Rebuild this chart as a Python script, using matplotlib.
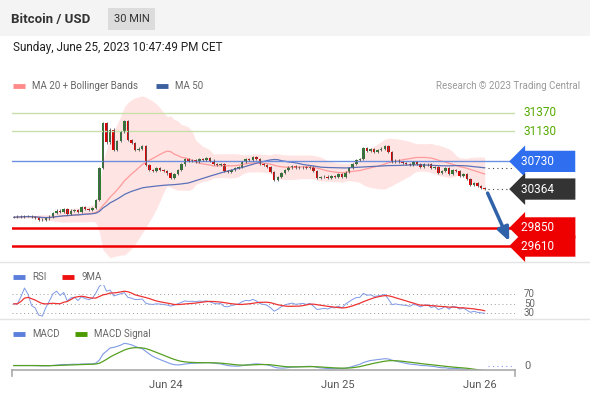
import matplotlib
matplotlib.use("Agg")
import matplotlib.pyplot as plt
import numpy as np
import pandas as pd

plt.rcParams["font.family"] = ["Roboto", "DejaVu Sans"]

# 30-min closes, Jun 23 -> Jun 26
closes = [
    29990, 30000, 29995, 30010, 30005, 29990, 29985, 29960, 29955, 29975,
    30000, 30050, 30080, 30060, 30100, 30040, 30080, 30090, 30060, 30120,
    30100, 30090, 30110, 30220,
    30640, 31240, 30980, 31150, 30880, 31000, 31120, 31265, 31010, 30970,
    30880, 30900, 30930,
    30680, 30620, 30600, 30640, 30620, 30600, 30570, 30510, 30560, 30620,
    30690, 30760, 30740, 30750, 30730, 30760, 30750, 30770, 30740, 30700,
    30680, 30690, 30600, 30590, 30620, 30640, 30660, 30720, 30760, 30750,
    30790, 30760, 30700, 30680, 30660, 30590, 30480,
    30520, 30580, 30620, 30650, 30670, 30640, 30650, 30660, 30640, 30660,
    30600, 30510, 30520, 30530, 30515, 30540, 30530, 30560, 30520, 30590,
    30640, 30700, 30750, 30760, 30905,
    30870, 30890, 30860, 30880, 30900, 30930, 30850, 30720, 30740, 30720,
    30710, 30700, 30680, 30720, 30700, 30660, 30690, 30700, 30640, 30660,
    30580, 30600, 30640, 30560, 30620, 30600, 30540, 30560, 30500, 30420,
    30440, 30400, 30380, 30364,
]
levels_green = [31370, 31130]
level_blue = 30730
levels_red = [29850, 29610]
last_price = 30364
tick_pos = [42.7, 90.8, 130.7]
tick_labels = ["Jun 24", "Jun 25", "Jun 26"]

c = pd.Series(closes, dtype=float)
o = c.shift(1).fillna(c.iloc[0])
hi = np.maximum(o, c) + 15
lo = np.minimum(o, c) - 15
n = len(c)
x = np.arange(n)

ma20 = c.rolling(20, min_periods=1).mean()
sd20 = c.rolling(20, min_periods=1).std().fillna(0)
ma50 = c.rolling(50, min_periods=1).mean()
d = c.diff().fillna(0)
rs = d.clip(lower=0).ewm(alpha=1 / 14).mean() / (-d.clip(upper=0)).ewm(alpha=1 / 14).mean().replace(0, np.nan)
rsi = (100 - 100 / (1 + rs)).fillna(50)
rsi_ma = rsi.rolling(9, min_periods=1).mean()
macd = c.ewm(span=12).mean() - c.ewm(span=26).mean()
sig = macd.ewm(span=9).mean()

W, H = 590, 400
fig = plt.figure(figsize=(5.9, 4.0), dpi=100)
fig.patch.set_facecolor("white")
gray = "#666666"
XL = (-0.5, 140.5)


def fax(left, top, right, bottom):
    return fig.add_axes([left / W, 1 - bottom / H, (right - left) / W, (bottom - top) / H])


def fy(py):
    return 1 - py / H


# header
fig.add_artist(plt.Rectangle((0, fy(36)), 1, 36 / H, transform=fig.transFigure,
                             facecolor="#f4f4f4", edgecolor="none"))
fig.text(11 / W, fy(19), "Bitcoin / USD", fontsize=9.5, fontweight="bold", color="#333", va="center")
fig.text(114 / W, fy(19), "30 MIN", fontsize=8, color="#333", va="center",
         bbox=dict(boxstyle="square,pad=0.5", facecolor="#dcdcdc", edgecolor="none"))
fig.text(13 / W, fy(47), "Sunday, June 25, 2023 10:47:49 PM CET", fontsize=8.5, color="#222", va="center")
for yy in (262, 319):
    fig.add_artist(plt.Line2D([0, 1], [fy(yy)] * 2, transform=fig.transFigure, color="#e4e4e4", lw=1))


def legend_item(px, py, color, label):
    fig.add_artist(plt.Line2D([px / W, (px + 12) / W], [fy(py)] * 2, transform=fig.transFigure,
                              color=color, lw=3.5, solid_capstyle="butt"))
    fig.text((px + 19) / W, fy(py), label, fontsize=7, color=gray, va="center")


legend_item(13, 86, "#ff8a8a", "MA 20 + Bollinger Bands")
legend_item(156, 86, "#3c5fa0", "MA 50")
fig.text(580 / W, fy(86), "Research \u00a9 2023 Trading Central", fontsize=7, color="#999", va="center", ha="right")
legend_item(13, 277, "#5b7fdb", "RSI")
legend_item(62, 277, "#ee1111", "9MA")
legend_item(13, 334, "#5b7fdb", "MACD")
legend_item(75, 334, "#4a9a00", "MACD Signal")

# main price panel
ax = fax(12, 95, 515, 258)
ax.set_xlim(*XL)
ax.set_ylim(29452, 31608)
ax.axis("off")
ax.fill_between(x, ma20 - 2 * sd20, ma20 + 2 * sd20, color="#ffdede", alpha=0.8, lw=0)
ax.plot(x, ma20, color="#ff9a9a", lw=0.9)
ax.plot(x, ma50, color="#5b72b8", lw=0.9)
for g in levels_green:
    ax.axhline(g, color="#c8dfaa", lw=1)
ax.axhline(level_blue, color="#6d8fe0", lw=1)
for r in levels_red:
    ax.axhline(r, color="#ee0000", lw=1.8)
up = (c >= o).to_numpy()
body = (c - o).to_numpy()
ax.vlines(x, lo, hi, color="#555", lw=0.6)
ax.bar(x[up], np.clip(body[up], 6, None), bottom=o.to_numpy()[up], width=0.7, color="#2e7d32", lw=0)
ax.bar(x[~up], np.clip(body[~up], None, -6), bottom=o.to_numpy()[~up], width=0.7, color="#dd0000", lw=0)
ax.plot([n, 140.5], [ma50.iloc[-1]] * 2, ls=(0, (1, 3)), color="#444", lw=0.8)
ax.plot([n, 140.5], [last_price] * 2, ls=(0, (1, 3)), color="#444", lw=0.8)
ax.annotate("", xy=(139.2, 29640), xytext=(n - 0.5, last_price - 20),
            arrowprops=dict(arrowstyle="-|>,head_width=0.35,head_length=0.8", color="#2f62a8", lw=2.5))


def tag(price, text, fc, tc="white"):
    yfig = ax.transData.transform((0, price))[1] / fig.dpi / 4.0
    if fc:
        fig.text(521 / W, yfig, text + "      ", fontsize=8.5, color=tc, va="center", ha="left",
                 bbox=dict(boxstyle="larrow,pad=0.35", facecolor=fc, edgecolor="none"))
    else:
        fig.text(524 / W, yfig, text, fontsize=8.5, color=tc, va="center", ha="left")


for g in levels_green:
    tag(g, str(g), None, "#55aa00")
tag(level_blue, str(level_blue), "#2f6fef")
tag(last_price, str(last_price), "#333333")
for r in levels_red:
    tag(r, str(r), "#ee0000")

# RSI panel
ax2 = fax(12, 285, 515, 318)
ax2.set_xlim(*XL)
ax2.set_ylim(20, 90)
ax2.axis("off")
for lv in (70, 50, 30):
    ax2.axhline(lv, color="#999", ls=(0, (1, 3)), lw=0.7)
    fig.text(524 / W, ax2.transData.transform((0, lv))[1] / 400, str(lv), fontsize=7, color=gray, va="center")
ax2.plot(x, rsi, color="#7f9ae6", lw=0.7)
ax2.plot(x, rsi_ma, color="#ee3333", lw=0.9)

# MACD panel
ax3 = fax(12, 340, 515, 370)
ax3.set_xlim(*XL)
top = max(macd.max(), sig.max())
ax3.set_ylim(-0.2 * top, 1.15 * top)
ax3.plot(x, macd, color="#7f9ae6", lw=0.8)
ax3.plot(x, sig, color="#55a020", lw=0.9)
ax3.plot([n, 140.5], [0, 0], ls=(0, (1, 3)), color="#7f9ae6", lw=0.8)
fig.text(524 / W, ax3.transData.transform((0, 0))[1] / 400, "0", fontsize=8, color=gray, va="center")
for s in ("top", "right", "left"):
    ax3.spines[s].set_visible(False)
ax3.spines["bottom"].set_color("#aaa")
ax3.spines["bottom"].set_linewidth(1.2)
ax3.set_yticks([])
ax3.set_xticks(tick_pos)
ax3.set_xticklabels(tick_labels, fontsize=8, color="#555")
ax3.tick_params(axis="x", length=0, pad=7)
for xe in XL:
    ax3.plot([xe, xe], [-0.2 * top, -0.2 * top - 0.25 * top], color="#aaa", lw=1.2, clip_on=False)

fig.savefig("out.png", dpi=100, facecolor="white")
